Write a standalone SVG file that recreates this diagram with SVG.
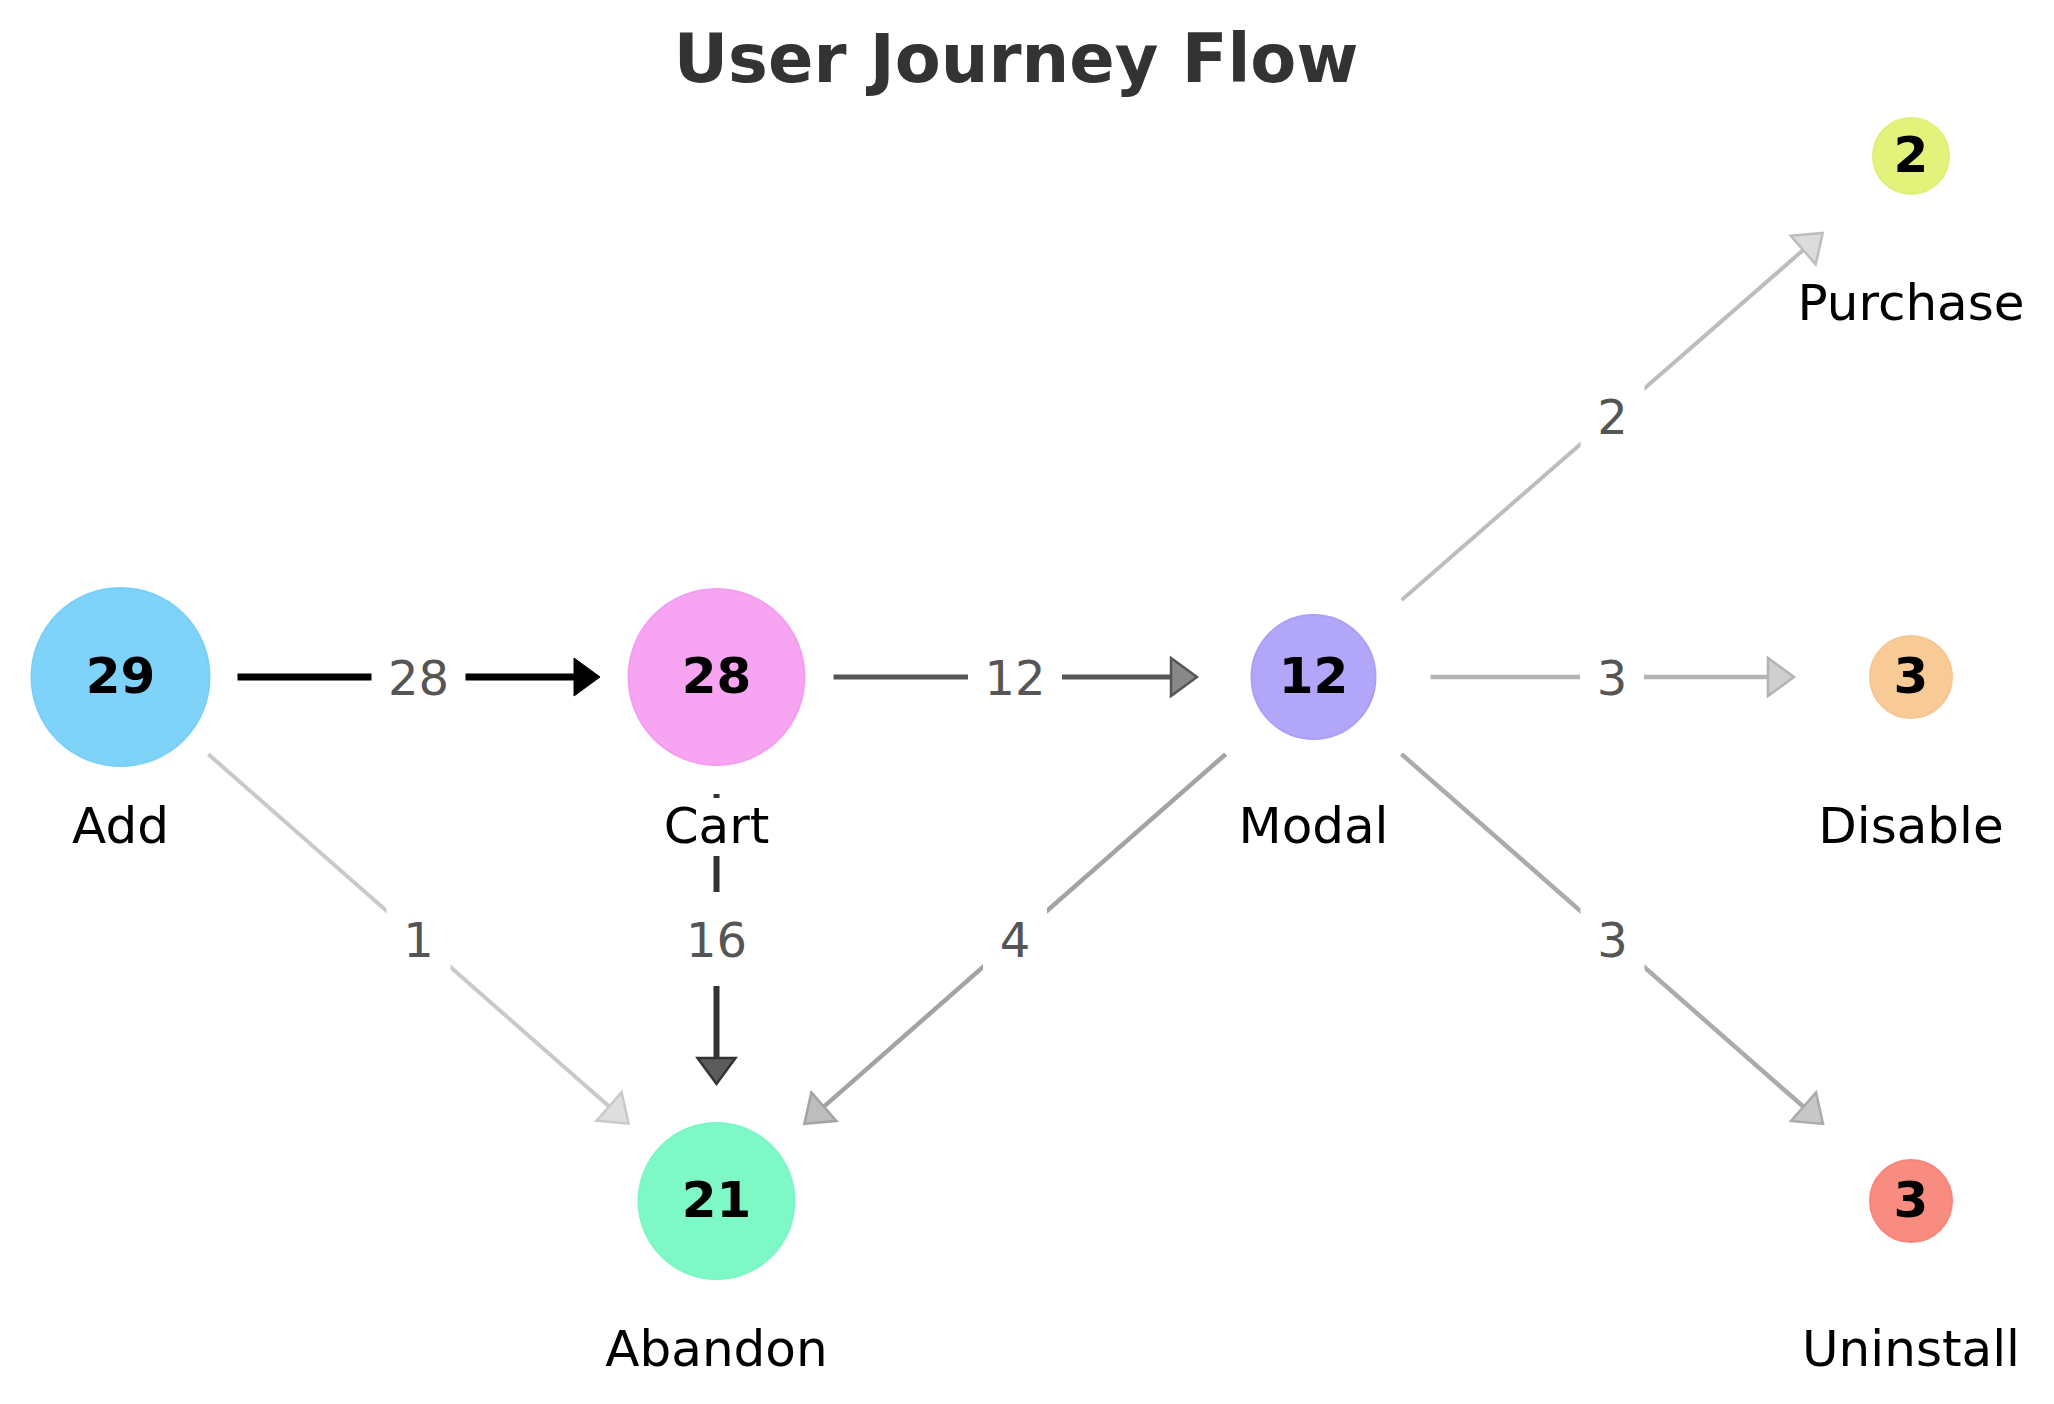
<svg xmlns="http://www.w3.org/2000/svg" width="2054" height="1404" viewBox="0 0 2054 1404">
<style>
  text { font-family: "DejaVu Sans", "Liberation Sans", sans-serif; }
  .title { font-size: 67px; font-weight: bold; fill: #333; text-anchor: middle; }
  .num { font-size: 50px; font-weight: bold; fill: #000; text-anchor: middle; }
  .lbl { font-size: 50px; fill: #000; text-anchor: middle; }
  .elbl { font-size: 48px; fill: #555; text-anchor: middle; }
  .box { fill: #fff; stroke: none; }
  .edge { fill: none; stroke-linecap: butt; }
  .node { stroke-width: 2; }
</style>
<defs>
  <marker id="h28" markerUnits="userSpaceOnUse" viewBox="-3 -22 32 44" markerWidth="32" markerHeight="44" refX="0" refY="0" orient="auto" overflow="visible"><path d="M0,-19 L26,0 L0,19 Z" fill="#000" stroke="#000" stroke-width="1"/></marker>
  <marker id="h16" markerUnits="userSpaceOnUse" viewBox="-3 -22 32 44" markerWidth="32" markerHeight="44" refX="0" refY="0" orient="auto" overflow="visible"><path d="M0,-19 L26,0 L0,19 Z" fill="#5c5c5c" stroke="#333" stroke-width="2.5"/></marker>
  <marker id="h12" markerUnits="userSpaceOnUse" viewBox="-3 -22 32 44" markerWidth="32" markerHeight="44" refX="0" refY="0" orient="auto" overflow="visible"><path d="M0,-19 L26,0 L0,19 Z" fill="#888" stroke="#555" stroke-width="2.5"/></marker>
  <marker id="h4" markerUnits="userSpaceOnUse" viewBox="-3 -22 32 44" markerWidth="32" markerHeight="44" refX="0" refY="0" orient="auto" overflow="visible"><path d="M0,-19 L26,0 L0,19 Z" fill="#bdbdbd" stroke="#a3a3a3" stroke-width="2.5"/></marker>
  <marker id="h3u" markerUnits="userSpaceOnUse" viewBox="-3 -22 32 44" markerWidth="32" markerHeight="44" refX="0" refY="0" orient="auto" overflow="visible"><path d="M0,-19 L26,0 L0,19 Z" fill="#c8c8c8" stroke="#ababab" stroke-width="2.5"/></marker>
  <marker id="h3d" markerUnits="userSpaceOnUse" viewBox="-3 -22 32 44" markerWidth="32" markerHeight="44" refX="0" refY="0" orient="auto" overflow="visible"><path d="M0,-19 L26,0 L0,19 Z" fill="#cfcfcf" stroke="#b3b3b3" stroke-width="2.5"/></marker>
  <marker id="h2" markerUnits="userSpaceOnUse" viewBox="-3 -22 32 44" markerWidth="32" markerHeight="44" refX="0" refY="0" orient="auto" overflow="visible"><path d="M0,-19 L26,0 L0,19 Z" fill="#dcdcdc" stroke="#bdbdbd" stroke-width="2.5"/></marker>
  <marker id="h1" markerUnits="userSpaceOnUse" viewBox="-3 -22 32 44" markerWidth="32" markerHeight="44" refX="0" refY="0" orient="auto" overflow="visible"><path d="M0,-19 L26,0 L0,19 Z" fill="#dedede" stroke="#c9c9c9" stroke-width="2.5"/></marker>
</defs>
<rect width="2054" height="1404" fill="#fff"/>
<text class="title" x="1016" y="82">User Journey Flow</text>

<g id="connectors">
  <g id="e-add-cart">
    <line class="edge" x1="237.5" y1="677" x2="574" y2="677" stroke="#000" stroke-width="7" marker-end="url(#h28)"/>
    <rect class="box" x="371.5" y="632" width="94" height="90"/>
    <text class="elbl" x="418.5" y="694.5">28</text>
  </g>
  <g id="e-cart-modal">
    <line class="edge" x1="833.5" y1="677" x2="1171" y2="677" stroke="#555" stroke-width="5" marker-end="url(#h12)"/>
    <rect class="box" x="968" y="632" width="94" height="90"/>
    <text class="elbl" x="1015" y="694.5">12</text>
  </g>
  <g id="e-modal-disable">
    <line class="edge" x1="1430.5" y1="677" x2="1768" y2="677" stroke="#b5b5b5" stroke-width="4.5" marker-end="url(#h3d)"/>
    <rect class="box" x="1580" y="632" width="64" height="90"/>
    <text class="elbl" x="1612" y="694.5">3</text>
  </g>
  <g id="e-cart-abandon">
    <line class="edge" x1="716.5" y1="794" x2="716.5" y2="1058" stroke="#333" stroke-width="6" marker-end="url(#h16)"/>
    <rect class="box" x="669.5" y="892" width="94" height="94"/>
    <text class="elbl" x="716.5" y="956.5">16</text>
  </g>
  <g id="e-add-abandon">
    <line class="edge" x1="208.4" y1="754.3" x2="609.1" y2="1106.5" stroke="#c9c9c9" stroke-width="4" marker-end="url(#h1)"/>
    <rect class="box" x="386.5" y="894" width="64" height="90"/>
    <text class="elbl" x="418.5" y="956.5">1</text>
  </g>
  <g id="e-modal-abandon">
    <line class="edge" x1="1225.6" y1="754.2" x2="823.9" y2="1106.6" stroke="#a3a3a3" stroke-width="4.5" marker-end="url(#h4)"/>
    <rect class="box" x="983" y="894" width="64" height="90"/>
    <text class="elbl" x="1015" y="956.5">4</text>
  </g>
  <g id="e-modal-purchase">
    <line class="edge" x1="1401.7" y1="600.1" x2="1803.2" y2="250" stroke="#bdbdbd" stroke-width="4" marker-end="url(#h2)"/>
    <rect class="box" x="1580.5" y="371.5" width="64" height="90"/>
    <text class="elbl" x="1612.5" y="434">2</text>
  </g>
  <g id="e-modal-uninstall">
    <line class="edge" x1="1401.5" y1="754.1" x2="1803.5" y2="1106.8" stroke="#ababab" stroke-width="4.5" marker-end="url(#h3u)"/>
    <rect class="box" x="1580.5" y="894" width="64" height="90"/>
    <text class="elbl" x="1612.5" y="956.5">3</text>
  </g>
</g>

<g id="node-add">
  <circle class="node" cx="120.5" cy="677" r="89" fill="#7fd3f8" stroke="#78d0fa"/>
  <text class="num" x="120.5" y="693">29</text>
  <rect class="box" x="65" y="798" width="111" height="58"/>
  <text class="lbl" x="120.5" y="843">Add</text>
</g>
<g id="node-cart">
  <circle class="node" cx="716.5" cy="677" r="88" fill="#f7a4f2" stroke="#f59df0"/>
  <text class="num" x="716.5" y="693">28</text>
  <rect class="box" x="657" y="798" width="119" height="58"/>
  <text class="lbl" x="716.5" y="843">Cart</text>
</g>
<g id="node-modal">
  <circle class="node" cx="1313.5" cy="677" r="62" fill="#b1a6f7" stroke="#ab9ff8"/>
  <text class="num" x="1313.5" y="693">12</text>
  <rect class="box" x="1233" y="798" width="161" height="58"/>
  <text class="lbl" x="1313.5" y="843">Modal</text>
</g>
<g id="node-purchase">
  <circle class="node" cx="1911" cy="156" r="38" fill="#e2f27a" stroke="#dff076"/>
  <text class="num" x="1911" y="172">2</text>
  <rect class="box" x="1793" y="277" width="236" height="58"/>
  <text class="lbl" x="1911" y="320">Purchase</text>
</g>
<g id="node-disable">
  <circle class="node" cx="1911" cy="677" r="41" fill="#f8ca96" stroke="#f8c690"/>
  <text class="num" x="1911" y="693">3</text>
  <rect class="box" x="1813" y="798" width="196" height="58"/>
  <text class="lbl" x="1911" y="843">Disable</text>
</g>
<g id="node-abandon">
  <circle class="node" cx="716.5" cy="1201" r="78" fill="#7ff8c7" stroke="#79f7c4"/>
  <text class="num" x="716.5" y="1217">21</text>
  <rect class="box" x="596" y="1322" width="241" height="58"/>
  <text class="lbl" x="716.5" y="1366">Abandon</text>
</g>
<g id="node-uninstall">
  <circle class="node" cx="1911" cy="1201" r="41" fill="#f98c80" stroke="#f8857a"/>
  <text class="num" x="1911" y="1217">3</text>
  <rect class="box" x="1797" y="1322" width="228" height="58"/>
  <text class="lbl" x="1911" y="1366">Uninstall</text>
</g>
</svg>
